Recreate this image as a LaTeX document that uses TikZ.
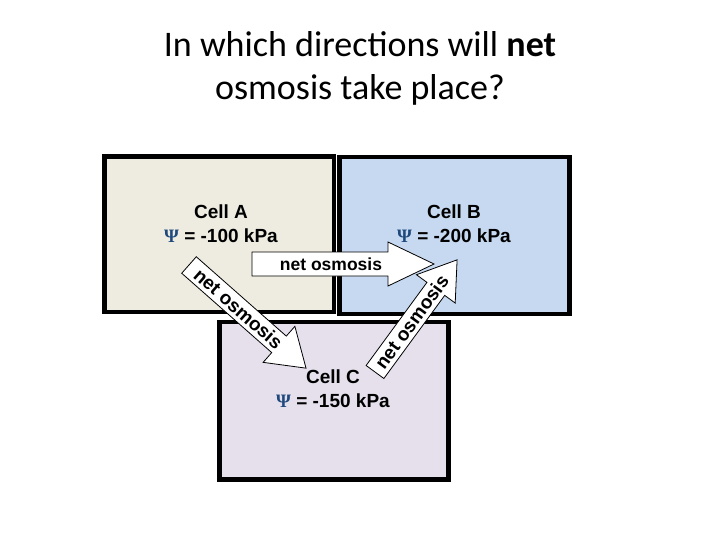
\documentclass[tikz,border=0pt]{standalone}
\usepackage{fontspec}
\setmainfont{Carlito}
\newfontfamily\arialfont{Liberation Sans}
\newfontfamily\psifont{Liberation Serif}
\definecolor{cellAfill}{HTML}{EEECE1}
\definecolor{cellBfill}{HTML}{C6D9F1}
\definecolor{cellCfill}{HTML}{E5E0EC}
\definecolor{psiblue}{HTML}{1F497D}
\newcommand{\psisym}{{\psifont\color{psiblue}Ψ}}
\tikzset{
  cellbox/.style={draw=black, line width=4.5pt, inner sep=0pt},
  celltext/.style={font=\arialfont\bfseries\fontsize{19}{24}\selectfont, align=center, inner sep=0pt},
  arrowbox/.style={draw=black, fill=white, line width=0.8pt, line join=miter},
  arrowtext/.style={font=\arialfont\bfseries\fontsize{17.5}{20}\selectfont, inner sep=0pt},
  diagtext/.style={font=\arialfont\bfseries\fontsize{19}{20}\selectfont, inner sep=0pt},
  titletext/.style={font=\fontsize{36}{43}\selectfont, anchor=base, inner sep=0pt}
}
\begin{document}
\begin{tikzpicture}[x=1pt, y=-1pt]
\useasboundingbox[fill=white] (0,0) rectangle (720,540);

\node[titletext] (title1) at (360,57) {In which directions will \textbf{net}};
\node[titletext] (title2) at (360,100) {osmosis take place?};

\node[cellbox, fill=cellAfill, minimum width=229.5pt, minimum height=155.5pt] (cellA) at (219.25,234.25) {};
\node[cellbox, fill=cellBfill, minimum width=230pt, minimum height=157pt] (cellB) at (454.5,235.5) {};
\node[cellbox, fill=cellCfill, minimum width=229pt, minimum height=157.5pt] (cellC) at (334,400.75) {};

\node[celltext] (labA) at (221,224) {Cell A\\\psisym{} = -100 kPa};
\node[celltext] (labB) at (454,224) {Cell B\\\psisym{} = -200 kPa};
\node[celltext] (labC) at (333,389) {Cell C\\\psisym{} = -150 kPa};

% horizontal arrow A -> B
\begin{scope}[shift={(252,264)}, transform shape]
  \draw[arrowbox] (0,-12) -- (136,-12) -- (136,-22) -- (182,0) -- (136,22) -- (136,12) -- (0,12) -- cycle;
  \node[arrowtext] (arrAB) at (79,0) {net osmosis};
\end{scope}

% diagonal arrow A -> C
\begin{scope}[shift={(189,265)}, rotate=-41.4, transform shape]
  \draw[arrowbox] (0,-11) -- (120,-11) -- (120,-24) -- (156,0) -- (120,24) -- (120,11) -- (0,11) -- cycle;
  \node[diagtext] (arrAC) at (66,0) {net osmosis};
\end{scope}

% diagonal arrow C -> B
\begin{scope}[shift={(375,372)}, rotate=53.8, transform shape]
  \draw[arrowbox] (0,-11) -- (103,-11) -- (103,-24) -- (139,0) -- (103,24) -- (103,11) -- (0,11) -- cycle;
  \node[diagtext] (arrCB) at (62,0) {net osmosis};
\end{scope}
\end{tikzpicture}
\end{document}
